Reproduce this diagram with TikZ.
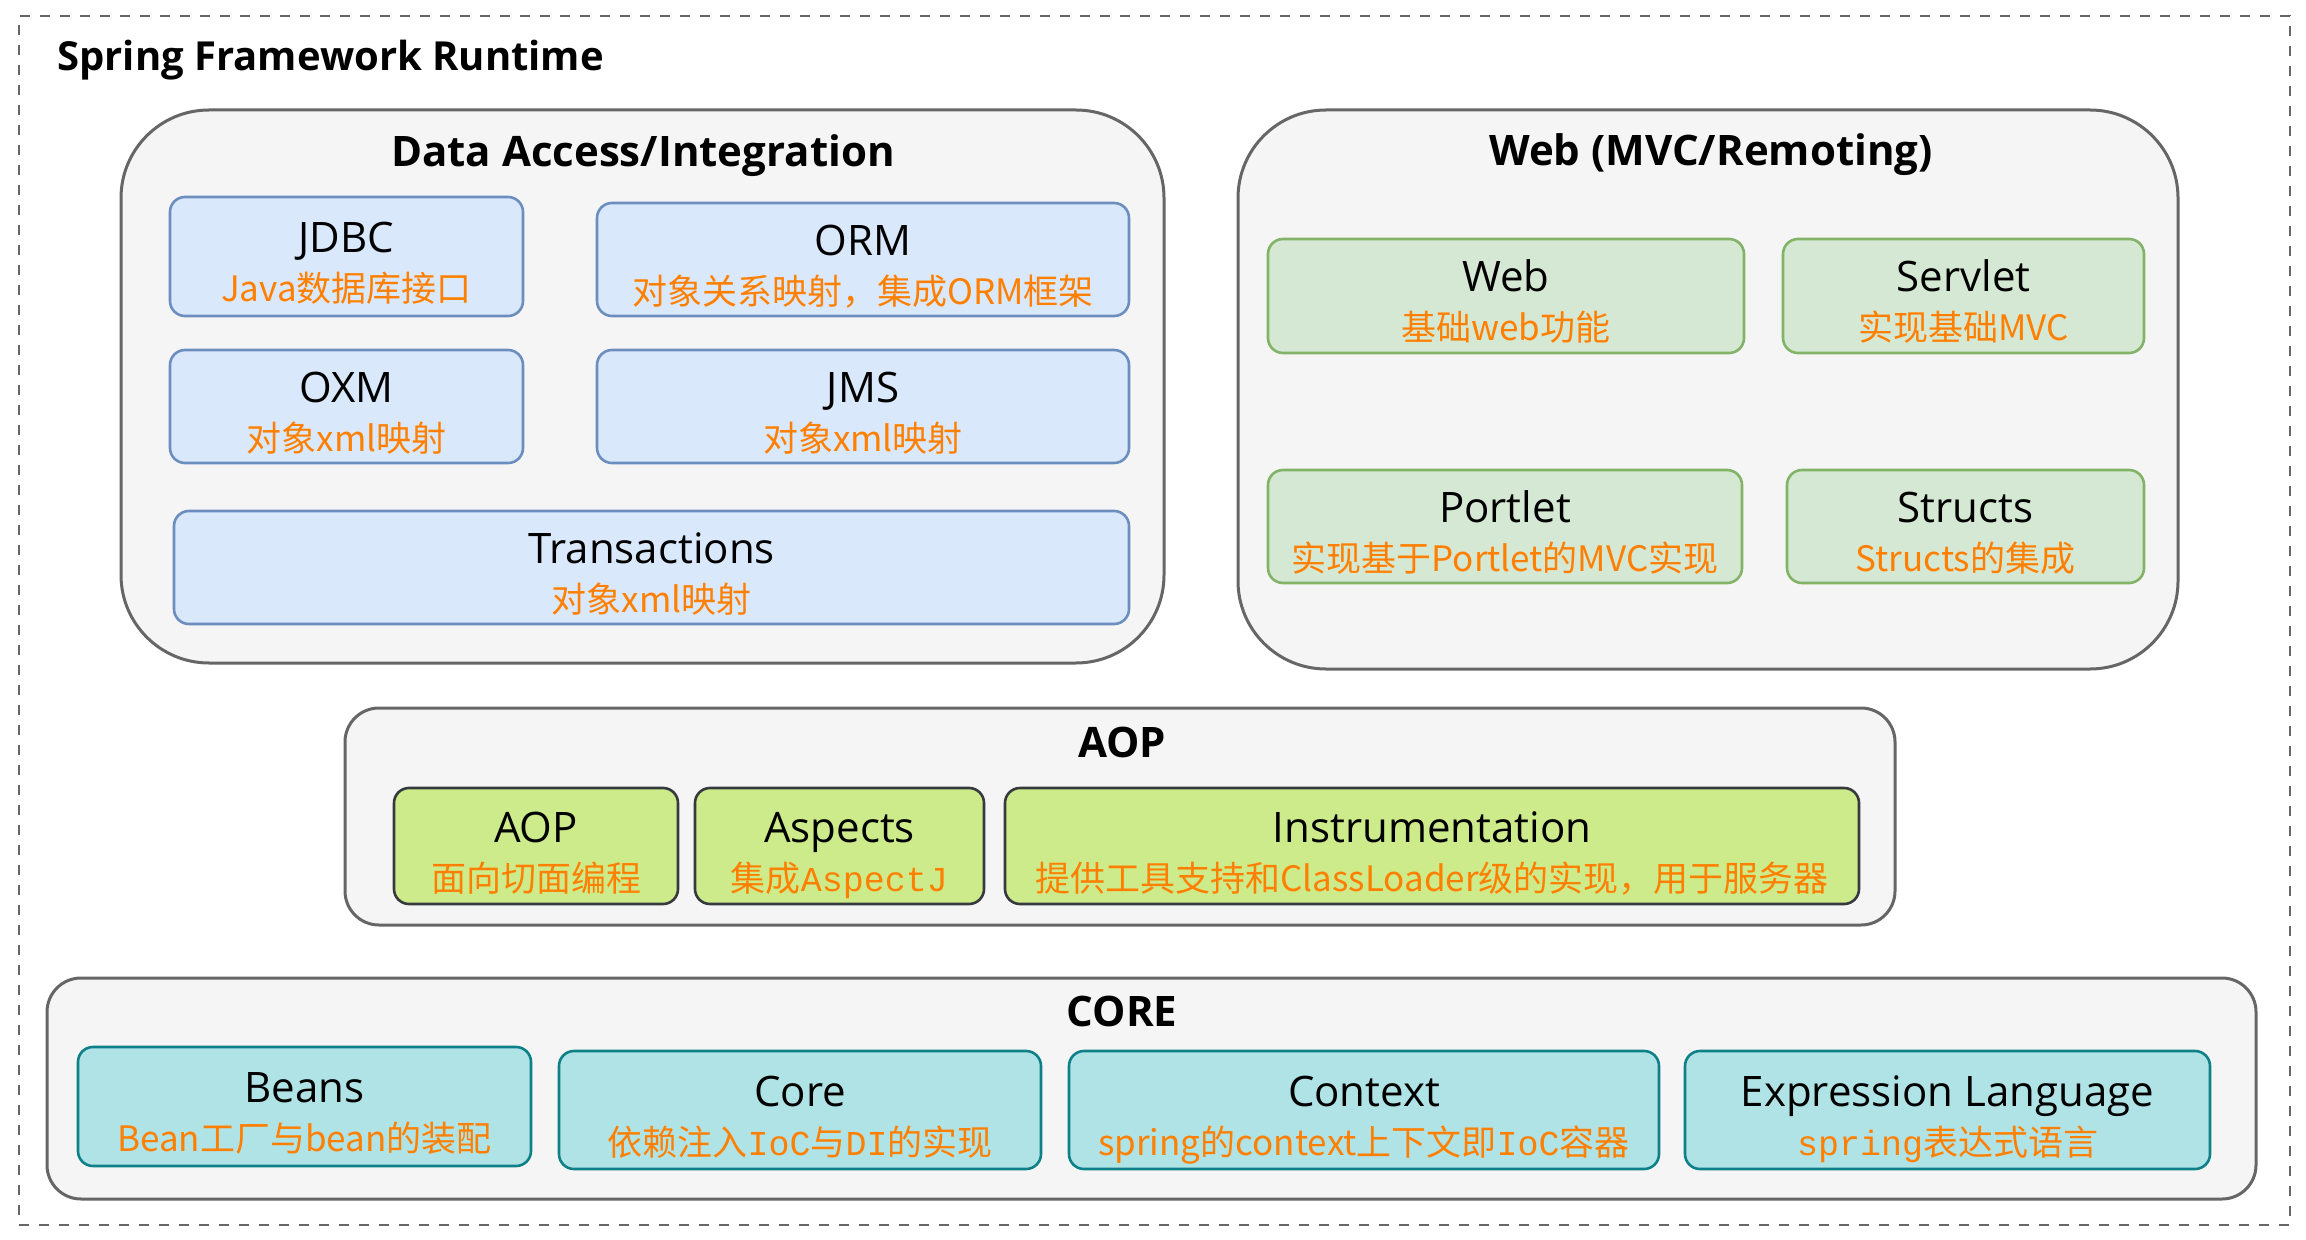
\documentclass[tikz,border=0pt]{standalone}
\usepackage{fontspec}
\setmainfont{Open Sans}
\newfontfamily\cjk{Noto Sans CJK SC}
\newfontfamily\monofnt{Liberation Mono}
\usetikzlibrary{fit}
\definecolor{grpfill}{HTML}{F5F5F5}
\definecolor{grpdraw}{HTML}{666666}
\definecolor{bluefill}{HTML}{DAE8FC}
\definecolor{bluedraw}{HTML}{6C8EBF}
\definecolor{greenfill}{HTML}{D5E8D4}
\definecolor{greendraw}{HTML}{82B366}
\definecolor{limefill}{HTML}{CDEB8B}
\definecolor{limedraw}{HTML}{36393D}
\definecolor{tealfill}{HTML}{B0E3E6}
\definecolor{tealdraw}{HTML}{0E8088}
\definecolor{orangetxt}{HTML}{FF8000}
\newcommand{\mn}[1]{{\monofnt #1}}
\newcommand{\boxlabels}[3]{%
  \node[lbl, anchor=base, yshift=2pt] (#1-t) at (#1.center) {#2};
  \node[sublbl, anchor=base, yshift=-22.5pt] (#1-s) at (#1.center) {#3};}
\begin{document}
\begin{tikzpicture}[x=0.5pt,y=-0.5pt,
  outerdash/.style={draw=grpdraw, line width=1pt, dash pattern=on 5pt off 5pt, inner sep=0pt},
  grp/.style={draw=grpdraw, fill=grpfill, line width=1.5pt, rounded corners=44pt, inner sep=0pt},
  grpsmall/.style={grp, rounded corners=17pt},
  gtitle/.style={font=\bfseries\fontsize{21}{24}\selectfont, inner sep=0pt},
  ibox/.style={line width=1.3pt, rounded corners=7.5pt, inner sep=0pt},
  lbl/.style={font=\fontsize{21}{24}\selectfont, inner sep=0pt},
  sublbl/.style={font=\cjk\fontsize{17.5}{20}\selectfont, text=orangetxt, inner sep=0pt},
  bluebox/.style={ibox, draw=bluedraw, fill=bluefill},
  greenbox/.style={ibox, draw=greendraw, fill=greenfill},
  limebox/.style={ibox, draw=limedraw, fill=limefill},
  tealbox/.style={ibox, draw=tealdraw, fill=tealfill}]
\useasboundingbox (0,0) rectangle (2306,1240);
\fill[white] (0,0) rectangle (2306,1240);

\node[outerdash, fit={(19,16)(2290,1225)}] (runtime) {};
\node[gtitle, font=\bfseries\fontsize{20}{24}\selectfont, anchor=base west] (runtimetitle) at (57,71) {Spring Framework Runtime};

% Data Access/Integration
\node[grp, fit={(121,110)(1164,663)}] (data) {};
\node[gtitle, anchor=base] (datatitle) at (643,167) {Data Access/Integration};
\node[bluebox, fit={(170,197)(523,316)}] (jdbc) {};
\boxlabels{jdbc}{JDBC}{Java数据库接口}
\node[bluebox, fit={(597,203)(1129,316)}] (orm) {};
\boxlabels{orm}{ORM}{对象关系映射，集成ORM框架}
\node[bluebox, fit={(170,350)(523,463)}] (oxm) {};
\boxlabels{oxm}{OXM}{对象xml映射}
\node[bluebox, fit={(597,350)(1129,463)}] (jms) {};
\boxlabels{jms}{JMS}{对象xml映射}
\node[bluebox, fit={(174,511)(1129,624)}] (tx) {};
\boxlabels{tx}{Transactions}{对象xml映射}

% Web
\node[grp, fit={(1238,110)(2178,669)}] (webgrp) {};
\node[gtitle, anchor=base] (webtitle) at (1711,166) {Web (MVC/Remoting)};
\node[greenbox, fit={(1268,239)(1744,353)}] (web) {};
\boxlabels{web}{Web}{基础web功能}
\node[greenbox, fit={(1783,239)(2144,353)}] (servlet) {};
\boxlabels{servlet}{Servlet}{实现基础MVC}
\node[greenbox, fit={(1268,470)(1742,583)}] (portlet) {};
\boxlabels{portlet}{Portlet}{实现基于Portlet的MVC实现}
\node[greenbox, fit={(1787,470)(2144,583)}] (structs) {};
\boxlabels{structs}{Structs}{Structs的集成}

% AOP
\node[grpsmall, fit={(345,708)(1895,925)}] (aopgrp) {};
\node[gtitle, anchor=base] (aoptitle) at (1122,757) {AOP};
\node[limebox, fit={(394,788)(678,904)}] (aop) {};
\boxlabels{aop}{AOP}{面向切面编程}
\node[limebox, fit={(695,788)(984,904)}] (aspects) {};
\boxlabels{aspects}{Aspects}{集成\mn{AspectJ}}
\node[limebox, fit={(1005,788)(1859,904)}] (instr) {};
\boxlabels{instr}{Instrumentation}{提供工具支持和ClassLoader级的实现，用于服务器}

% CORE
\node[grpsmall, fit={(47,978)(2256,1199)}] (coregrp) {};
\node[gtitle, anchor=base] (coretitle) at (1122,1026) {CORE};
\node[tealbox, fit={(78,1047)(531,1166)}] (beans) {};
\boxlabels{beans}{Beans}{Bean工厂与bean的装配}
\node[tealbox, fit={(559,1051)(1041,1169)}] (core) {};
\boxlabels{core}{Core}{依赖注入\mn{IoC}与\mn{DI}的实现}
\node[tealbox, fit={(1069,1051)(1659,1169)}] (context) {};
\boxlabels{context}{Context}{spring的context上下文即\mn{IoC}容器}
\node[tealbox, fit={(1685,1051)(2210,1169)}] (expr) {};
\boxlabels{expr}{Expression Language}{\mn{spring}表达式语言}
\end{tikzpicture}
\end{document}
